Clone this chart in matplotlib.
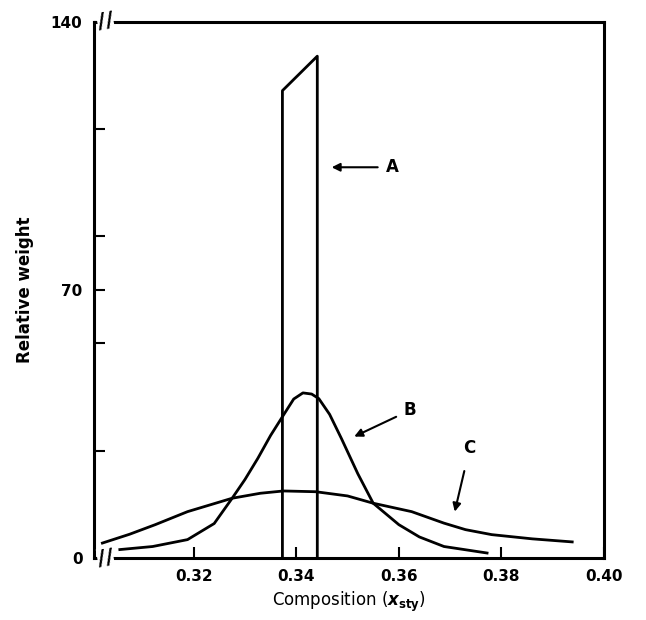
import matplotlib.pyplot as plt
import numpy as np

# curve A: narrow rectangle-like distribution
a_x = [0.3373, 0.3373, 0.3441, 0.3441]
a_y = [0, 122, 131, 0]

# curve B
b_x = [0.3056, 0.3120, 0.3188, 0.3240, 0.3275, 0.3300, 0.3325, 0.3350, 0.3375, 0.3395,
       0.3413, 0.3430, 0.3444, 0.3465, 0.3488, 0.3520, 0.3550, 0.3600, 0.3640, 0.3688, 0.3772]
b_y = [2.2, 3.0, 4.8, 9.0, 15.6, 20.5, 26.0, 32.0, 37.3, 41.5,
       43.1, 42.8, 41.6, 37.5, 31.2, 22.0, 14.3, 8.7, 5.5, 3.0, 1.3]

# curve C
c_x = [0.3022, 0.3075, 0.3125, 0.3188, 0.3275, 0.3330, 0.3375, 0.3438, 0.3500,
       0.3550, 0.3625, 0.3688, 0.3730, 0.3781, 0.3860, 0.3938]
c_y = [3.9, 6.2, 8.7, 12.1, 15.6, 16.9, 17.5, 17.3, 16.2,
       14.3, 12.1, 9.1, 7.4, 6.1, 5.0, 4.2]

plt.rcParams['font.family'] = 'DejaVu Sans'
plt.rcParams['font.weight'] = 'bold'

fig, ax = plt.subplots(figsize=(6.46, 6.2), dpi=100)
fig.subplots_adjust(left=0.145, right=0.935, top=0.965, bottom=0.1)

lw = 2.0
ax.plot(a_x, a_y, color='black', lw=lw)
ax.plot(b_x, b_y, color='black', lw=lw)
ax.plot(c_x, c_y, color='black', lw=lw)

ax.set_xlim(0.3005, 0.40)
ax.set_ylim(0, 140)
for s in ax.spines.values():
    s.set_linewidth(2.2)

ax.set_xticks([0.32, 0.34, 0.36, 0.38, 0.40])
ax.set_xticklabels(['0.32', '0.34', '0.36', '0.38', '0.40'])
ax.set_yticks([0, 70, 140])
ax.set_yticks([28, 56, 84, 112], minor=True)
ax.tick_params(direction='in', length=8, width=1.5, labelsize=11, pad=8)
ax.tick_params(which='minor', direction='in', length=8, width=1.5)

ax.set_xlabel(r'Composition ($x_{\rm sty}$)', fontsize=12, fontweight='normal')
ax.set_ylabel('Relative weight', fontsize=12, fontweight='bold', labelpad=12)

ax.annotate('A', xy=(0.3469, 102), xytext=(0.3575, 102), fontsize=12, va='center',
            arrowprops=dict(arrowstyle='-|>', color='black', lw=1.5, shrinkA=4, shrinkB=0))
ax.annotate('B', xy=(0.3513, 31.7), xytext=(0.3610, 38.6), fontsize=12, va='center',
            arrowprops=dict(arrowstyle='-|>', color='black', lw=1.5, shrinkA=4, shrinkB=0))
ax.annotate('C', xy=(0.3709, 12.1), xytext=(0.3738, 28.6), fontsize=12, va='center', ha='center',
            arrowprops=dict(arrowstyle='-|>', color='black', lw=1.5, shrinkA=8, shrinkB=0))

# axis break marks
for yb in (0, 140):
    ax.text(0.3028, yb, '//', fontsize=16, ha='center', va='center', rotation=10,
            clip_on=False, bbox=dict(facecolor='white', edgecolor='none', pad=0))

fig.savefig('out.png', dpi=100)
